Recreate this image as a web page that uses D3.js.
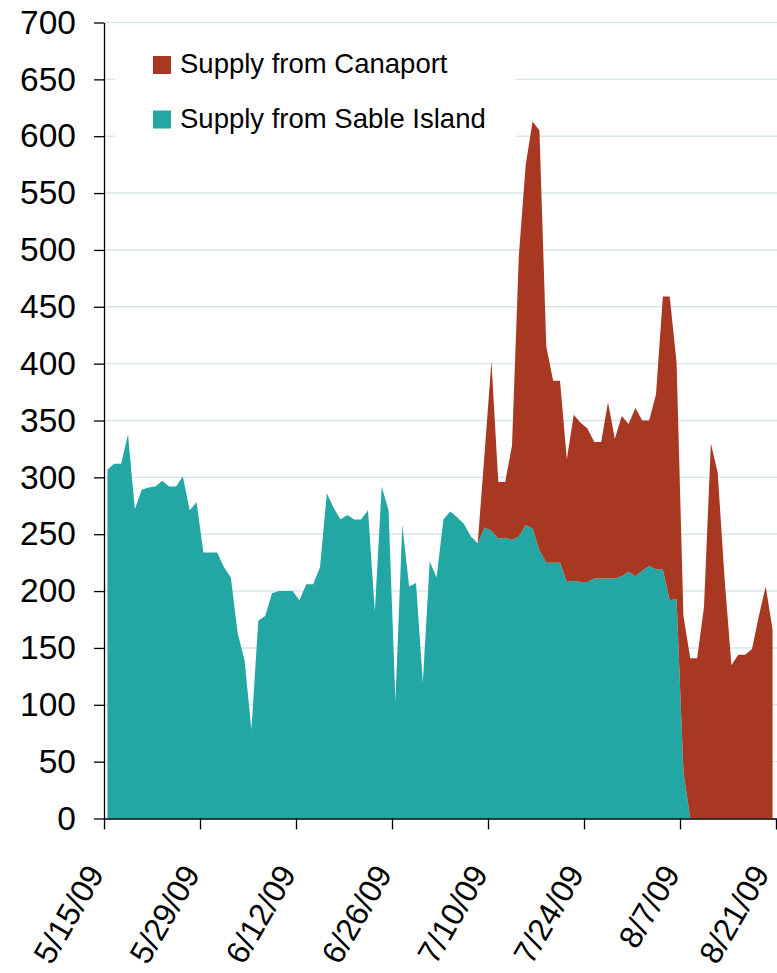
<!DOCTYPE html>
<html>
<head>
<meta charset="utf-8">
<script src="https://cdn.jsdelivr.net/npm/d3@7"></script>
<style>
  body { margin: 0; background: #fff; }
  svg { display: block; font-family: "Liberation Sans", Arial, sans-serif; }
</style>
</head>
<body>
<div class="chart"></div>
<script>
// daily supply, 5/15/09 .. 8/20/09 (null = no supply from that source)
const sable = [
  307, 312, 312, 338, 272, 289, 291, 292, 297, 292,
  292, 301, 271, 278, 234, 234, 234, 221, 212, 163,
  139, 78, 174, 178, 198, 200, 200, 200, 192, 206,
  206, 221, 286, 273, 263, 267, 263, 263, 271, 182,
  292, 271, 103, 258, 204, 207, 120, 226, 212, 263,
  270, 265, 259, 248, 242, 256, 253, 246, 247, 245,
  248, 258, 255, 236, 225, 225, 225, 208, 209, 208,
  208, 211, 211, 211, 211, 213, 217, 213, 218, 222,
  219, 219, 192, 193, 41, 0, null, null, null, null,
  null, null, null, null, null, null, null, null
];
const canaport = [
  null, null, null, null, null, null, null, null, null, null,
  null, null, null, null, null, null, null, null, null, null,
  null, null, null, null, null, null, null, null, null, null,
  null, null, null, null, null, null, null, null, null, null,
  null, null, null, null, null, null, null, null, null, null,
  null, null, null, null, 0, 65, 149, 50, 49, 83,
  247, 317, 358, 369, 190, 160, 160, 108, 146, 140,
  135, 120, 120, 155, 123, 141, 130, 148, 132, 128,
  154, 240, 267, 208, 137, 141, 141, 186, 330, 304,
  211, 135, 144, 144, 149, 178, 204, 166
];
const seriesKeys = ["sable", "canaport"];
const seriesLabels = { sable: "Supply from Sable Island", canaport: "Supply from Canaport" };
const seriesColors = { sable: "#23a7a5", canaport: "#a93822" };
const firstDay = "5/15/09";
const tickLabels = ["5/15/09", "5/29/09", "6/12/09", "6/26/09", "7/10/09", "7/24/09", "8/7/09", "8/21/09"];
const yTicks = [0, 50, 100, 150, 200, 250, 300, 350, 400, 450, 500, 550, 600, 650, 700];

const parse = d3.timeParse("%m/%d/%y");
const start = parse(firstDay);
const table = sable.map((v, i) => ({
  date: d3.timeDay.offset(start, i),
  sable: v,
  canaport: canaport[i]
}));

const w = 777, h = 973;
const margin = { top: 22.5, right: 1, bottom: 154.5, left: 104 };

const x = d3.scaleTime()
  .domain([parse(tickLabels[0]), parse(tickLabels[tickLabels.length - 1])])
  .range([margin.left, w - margin.right]);
const y = d3.scaleLinear()
  .domain([0, 700])
  .range([h - margin.bottom, margin.top]);

// points sit in the middle of each day slot
const xMid = d => x(d3.timeHour.offset(d, 12));

const stack = d3.stack()
  .keys(seriesKeys)
  .value((d, key) => d[key] == null ? 0 : d[key]);
const layers = stack(table);

const svg = d3.select(".chart").append("svg")
  .attr("width", w)
  .attr("height", h);

// gridlines
svg.append("g")
  .selectAll("line")
  .data(yTicks.filter(t => t > 0))
  .join("line")
  .attr("x1", margin.left)
  .attr("x2", w)
  .attr("y1", d => y(d))
  .attr("y2", d => y(d))
  .attr("stroke", "#d8e5e7")
  .attr("stroke-width", 1.4);

layers.forEach(layer => {
  const key = layer.key;
  const area = d3.area()
    .defined(d => d.data[key] != null)
    .x(d => xMid(d.data.date))
    .y0(d => y(d[0]))
    .y1(d => y(d[1]));
  svg.append("path")
    .datum(layer)
    .attr("fill", seriesColors[key])
    .attr("d", area);
});

// legend
const legend = svg.append("g");
legend.append("rect")
  .attr("x", 115).attr("y", 36)
  .attr("width", 401).attr("height", 106)
  .attr("fill", "#fff");
["canaport", "sable"].forEach((key, i) => {
  const gy = 56 + i * 54.5;
  legend.append("rect")
    .attr("x", 153).attr("y", gy)
    .attr("width", 18).attr("height", 18)
    .attr("fill", seriesColors[key]);
  legend.append("text")
    .attr("x", 180).attr("y", gy + 17)
    .attr("font-size", 27.5)
    .attr("fill", "#000")
    .text(seriesLabels[key]);
});

// axes
const yAxis = d3.axisLeft(y)
  .tickValues(yTicks)
  .tickSize(10)
  .tickSizeOuter(0)
  .tickPadding(18);
const gy = svg.append("g")
  .attr("transform", `translate(${margin.left},0)`)
  .call(yAxis);
gy.selectAll("text").attr("font-size", 33.5).attr("fill", "#000").attr("font-family", "Liberation Sans, Arial, sans-serif");

const xAxis = d3.axisBottom(x)
  .tickValues(tickLabels.map(parse))
  .tickFormat((d, i) => tickLabels[i])
  .tickSize(11)
  .tickSizeOuter(0);
const gx = svg.append("g")
  .attr("transform", `translate(0,${h - margin.bottom})`)
  .call(xAxis);
// last label nudged left so it stays inside the page
gx.selectAll("text")
  .attr("font-size", 32)
  .attr("fill", "#000")
  .attr("font-family", "Liberation Sans, Arial, sans-serif")
  .attr("text-anchor", "end")
  .attr("x", 0)
  .attr("y", 0)
  .attr("dy", 0)
  .attr("transform", (d, i) => `translate(${i === tickLabels.length - 1 ? -6 : 0.5},55) rotate(-60)`);

svg.selectAll(".domain, .tick line").attr("stroke", "#000").attr("stroke-width", 1.3);
</script>
</body>
</html>
